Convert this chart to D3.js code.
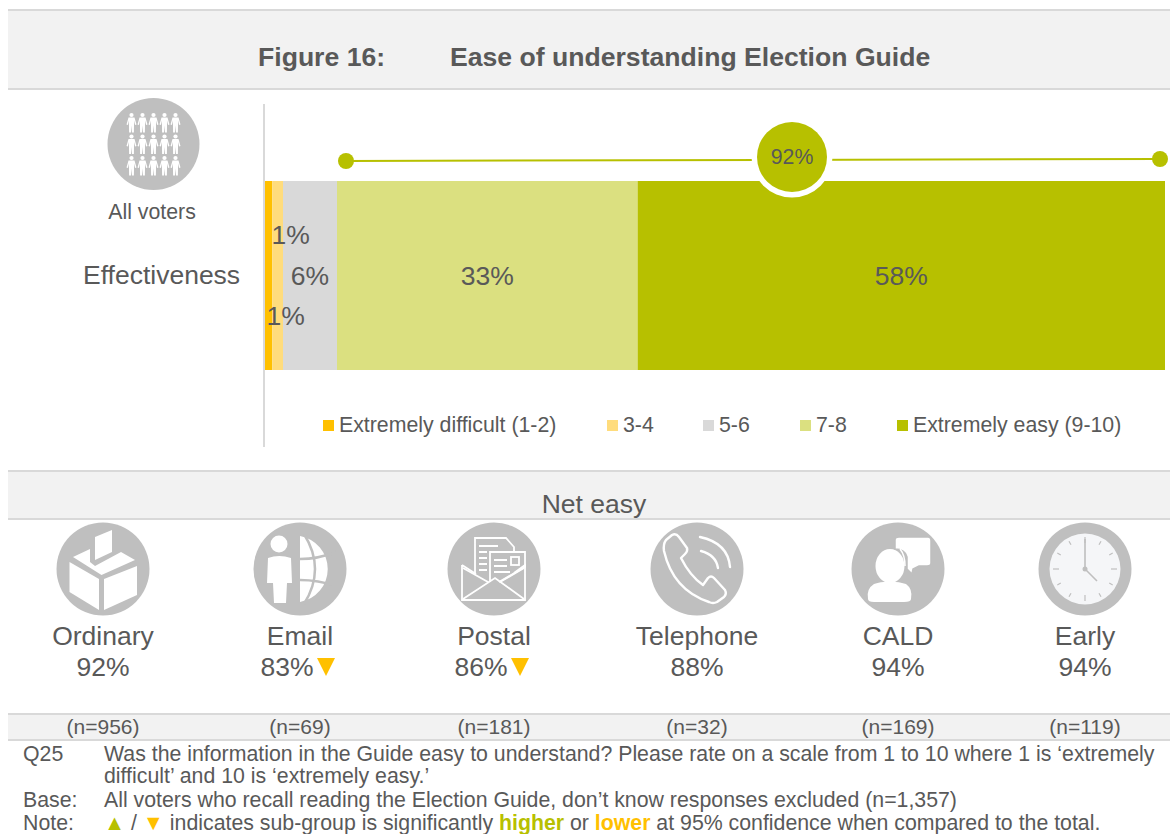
<!DOCTYPE html>
<html><head><meta charset="utf-8">
<script src="https://cdn.jsdelivr.net/npm/d3@7"></script>
<style>
html,body{margin:0;padding:0;background:#fff;overflow:hidden}
svg{display:block}
text{font-family:"Liberation Sans",Arial,sans-serif;fill:#595959}
</style></head><body>
<script>
const segments = ["Extremely difficult (1-2)", "3-4", "5-6", "7-8", "Extremely easy (9-10)"];
const barValues = [0.8, 1.2, 6, 33.4, 58.6];
const barLabels = ["1%", "1%", "6%", "33%", "58%"];
const segColors = ["#ffc000", "#ffdc7c", "#d9d9d9", "#dbe080", "#b7c000"];
const groups = ["Ordinary", "Email", "Postal", "Telephone", "CALD", "Early"];
const netEasy = [92, 83, 86, 88, 94, 94];
const lowerFlags = [false, true, true, false, false, false];
const sampleSizes = ["(n=956)", "(n=69)", "(n=181)", "(n=32)", "(n=169)", "(n=119)"];
const groupCenters = [103, 300, 494, 697, 898, 1085];
const overallNet = 92;

const W = 1170, H = 834, GREY = "#bfbfbf", GREEN = "#b7c000", AMBER = "#ffc000";
const svg = d3.select("body").append("svg").attr("width", W).attr("height", H);
const txt = (p, x, y, s, size, anchor = "middle") => p.append("text").attr("x", x).attr("y", y)
  .attr("font-size", size).attr("text-anchor", anchor).text(s);

// bands
function band(y0, y1) {
  svg.append("rect").attr("x", 8).attr("y", y0).attr("width", W - 8).attr("height", y1 - y0).attr("fill", "#f2f2f2");
  [y0, y1].forEach(y => svg.append("rect").attr("x", 8).attr("y", y - 1).attr("width", W - 8).attr("height", 2).attr("fill", "#d9d9d9"));
}
band(10, 89); band(471, 519); band(714, 740);

txt(svg, 258, 66, "Figure 16:", 26.6, "start").attr("font-weight", "bold");
txt(svg, 450, 66, "Ease of understanding Election Guide", 26.6, "start").attr("font-weight", "bold");

// all voters icon
const av = svg.append("g").attr("transform", "translate(153.5,144)");
av.append("circle").attr("r", 46).attr("fill", GREY);
d3.range(3).forEach(r => d3.range(5).forEach(c => {
  const g = av.append("g").attr("transform", `translate(${(c - 2) * 11},${(r - 1) * 21.5})`).attr("fill", "#fff");
  g.append("circle").attr("cy", -7.5).attr("r", 2.1);
  g.append("path").attr("d", "M-3,-5L3,-5L5,2L3.6,2.5L2.6,-2L2.4,10L.5,10L0,3L-.5,10L-2.4,10L-2.6,-2L-3.6,2.5L-5,2Z");
}));
txt(svg, 152, 219, "All voters", 21.3);
txt(svg, 83, 284, "Effectiveness", 26.5, "start");

// axis line
svg.append("rect").attr("x", 263).attr("y", 104).attr("width", 2).attr("height", 343).attr("fill", "#d9d9d9");

// stacked bar
const x = d3.scaleLinear().domain([0, d3.sum(barValues)]).range([265, 1165]);
const cum = d3.cumsum(barValues);
const starts = barValues.map((v, i) => i ? cum[i - 1] : 0);
svg.selectAll("rect.seg").data(barValues).join("rect").attr("class", "seg")
  .attr("x", (d, i) => x(starts[i])).attr("y", 181)
  .attr("width", (d, i) => x(starts[i] + d) - x(starts[i])).attr("height", 189)
  .attr("fill", (d, i) => segColors[i]);

const labelY = [325, 244, 285, 285, 285];
const labelDx = [17, 13, 0, 0, 0];
barLabels.forEach((s, i) => txt(svg, x(starts[i] + barValues[i] / 2) + labelDx[i], labelY[i], s, 26.5));

// net bracket
const netMid = 792, netY = 157;
const lx0 = 346, lx1 = 1160;
const lineY = d3.scaleLinear().domain([lx0, lx1]).range([161, 159]);
svg.append("line").attr("x1", lx0).attr("x2", lx1).attr("y1", lineY(lx0)).attr("y2", lineY(lx1))
  .attr("stroke", GREEN).attr("stroke-width", 2);
[lx0, lx1].forEach(cx => svg.append("circle").attr("cx", cx).attr("cy", lineY(cx)).attr("r", 8).attr("fill", GREEN));
svg.append("circle").attr("cx", netMid).attr("cy", netY).attr("r", 40.5).attr("fill", "#fff");
svg.append("circle").attr("cx", netMid).attr("cy", netY).attr("r", 35).attr("fill", GREEN);
txt(svg, netMid, 164, overallNet + "%", 21.3);

// legend
const legendSquare = [323, 607, 703, 800, 897];
segments.forEach((s, i) => {
  svg.append("rect").attr("x", legendSquare[i]).attr("y", 420).attr("width", 11).attr("height", 11).attr("fill", segColors[i]);
  txt(svg, legendSquare[i] + 16, 432, s, 21.3, "start");
});

txt(svg, 594, 513, "Net easy", 26.5);

// icons
const icons = {
  Ordinary(g) {
    const w = g.append("g").attr("fill", "#fff");
    ["M-33.5,-7L-4,10L-4,41L-33.5,23Z", "M1,10L34,-3L34,26L1,41Z",
     "M-30,-12L-13,-20L-13,-7L-8,-3L18,-17L32,-9L-1.5,6Z", "M-8,-32L9,-39L9,-17L-8,-9Z"]
      .forEach(d => w.append("path").attr("d", d));
  },
  Email(g) {
    g.append("circle").attr("cx", -21).attr("cy", -25).attr("r", 8.5).attr("fill", "#fff");
    g.append("path").attr("fill", "#fff").attr("d", "M-32,-11Q-21,-15,-9,-11L-8,14L-13,14L-14,34L-26,34L-27,14L-33,14Z");
    g.append("path").attr("fill", "#fff").attr("d", "M0,-33A33.5,33.5,0,0,1,0,33Z");
    const l = g.append("g").attr("fill", "none").attr("stroke", GREY).attr("stroke-width", 2.5);
    l.append("path").attr("d", "M4,-35Q26,0,4,35");
    l.append("path").attr("d", "M0,-10Q18,-10,36,-17");
    l.append("path").attr("d", "M0,11Q18,11,36,17");
  },
  Postal(g) {
    const f = g.append("g").attr("fill", "none").attr("stroke", "#fff").attr("stroke-width", 1.8);
    f.append("path").attr("d", "M-32,-4L-32,31L31,31L31,-4L20,4M-32,-4L-18,5");
    f.append("path").attr("d", "M-31,30L1,9L30,30M-31,-1L-6,13M30,-1L6,13");
    f.append("path").attr("d", "M-19,4L-19,-31L12,-31L20,-22L20,-17");
    f.append("path").attr("d", "M-4,13L-4,-17L31,-17L31,-2L5,13");
    f.append("path").attr("d", "M-15,-23L4,-23M-15,-17L-7,-17M-15,-11L-7,-11M-15,-5L-7,-5M-15,1L-7,1M0,-9L13,-9M0,-3L13,-3M0,3L16,3");
    f.append("rect").attr("x", 17).attr("y", -12).attr("width", 8).attr("height", 8);
  },
  Telephone(g) {
    const f = g.append("g").attr("fill", "none").attr("stroke", "#fff").attr("stroke-width", 2.4)
      .attr("stroke-linecap", "round").attr("stroke-linejoin", "round");
    f.append("path").attr("d", "M-31,-29L-25,-34Q-21,-36,-18,-32L-10,-21Q-9,-18,-12,-15L-16,-11Q-7,7,6,16L11,9Q14,6,17,9L28,21Q30,25,27,28L20,33Q16,35,12,33Q-24,21,-33,-18Q-34,-25,-31,-29Z");
    f.append("path").attr("d", "M4,-18Q19,-14,21,-1");
    f.append("path").attr("d", "M3,-32Q31,-26,33,-2");
  },
  CALD(g) {
    g.append("ellipse").attr("cx", -8).attr("cy", -3).attr("rx", 14.5).attr("ry", 17).attr("fill", "#fff");
    g.append("path").attr("fill", "#fff").attr("d", "M-30,30Q-32,20,-24,15Q-14,12,-9,13Q-2,12,8,15Q15,20,13,30Q13,33,6,33L-24,33Q-30,33,-30,30Z");
    g.append("path").attr("fill", "#fff").attr("stroke", GREY).attr("stroke-width", 1.5)
      .attr("d", "M-3,-29Q-3,-32,1,-32L30,-32Q33,-32,33,-28L33,-6Q33,-3,29,-3L21,-3L15,0L14,5L9,0L9,-12Q7,-20,-3,-20Z");
    g.append("path").attr("fill", "none").attr("stroke", "#fff").attr("stroke-width", 1.5).attr("d", "M2,-20Q7,-14,7,-3");
  },
  Early(g) {
    g.append("circle").attr("r", 35.5).attr("fill", "#f5f6f8");
    d3.range(12).forEach(i => {
      const a = i * Math.PI / 6, r0 = i % 3 ? 28 : 26, r1 = 32;
      g.append("line").attr("x1", Math.sin(a) * r0).attr("y1", -Math.cos(a) * r0)
        .attr("x2", Math.sin(a) * r1).attr("y2", -Math.cos(a) * r1)
        .attr("stroke", GREY).attr("stroke-width", 1.2);
    });
    g.append("path").attr("fill", "none").attr("stroke", GREY).attr("stroke-width", 1.6).attr("d", "M0,-30L0,0L12,12");
    g.append("circle").attr("r", 2.5).attr("fill", GREY);
  }
};

groups.forEach((name, i) => {
  const cx = groupCenters[i];
  const g = svg.append("g").attr("transform", `translate(${cx},569)`);
  g.append("circle").attr("r", 46.5).attr("fill", GREY);
  icons[name](g);
  txt(svg, cx, 645, name, 26.5);
  const vx = lowerFlags[i] ? cx - 13 : cx;
  txt(svg, vx, 676, netEasy[i] + "%", 26.5);
  if (lowerFlags[i]) {
    svg.append("path").attr("fill", AMBER)
      .attr("d", d3.line()([[vx + 30, 658], [vx + 48, 658], [vx + 39, 676]]) + "Z");
  }
  txt(svg, cx, 734, sampleSizes[i], 21);
});

// footnotes
const fs = 21.3;
txt(svg, 23, 761, "Q25", fs, "start");
txt(svg, 104, 761, "Was the information in the Guide easy to understand? Please rate on a scale from 1 to 10 where 1 is ‘extremely", fs, "start");
txt(svg, 104, 783, "difficult’ and 10 is ‘extremely easy.’", fs, "start");
txt(svg, 23, 807, "Base:", fs, "start");
txt(svg, 104, 807, "All voters who recall reading the Election Guide, don’t know responses excluded (n=1,357)", fs, "start");
txt(svg, 23, 829.5, "Note:", fs, "start");
const note = svg.append("text").attr("x", 104).attr("y", 829.5).attr("font-size", fs);
note.append("tspan").attr("style", `fill:${GREEN}`).text("▲");
note.append("tspan").text(" / ");
note.append("tspan").attr("style", `fill:${AMBER}`).text("▼");
note.append("tspan").text(" indicates sub-group is significantly ");
note.append("tspan").attr("style", `fill:${GREEN}`).attr("font-weight", "bold").text("higher");
note.append("tspan").text(" or ");
note.append("tspan").attr("style", `fill:${AMBER}`).attr("font-weight", "bold").text("lower");
note.append("tspan").text(" at 95% confidence when compared to the total.");
</script>
</body></html>
